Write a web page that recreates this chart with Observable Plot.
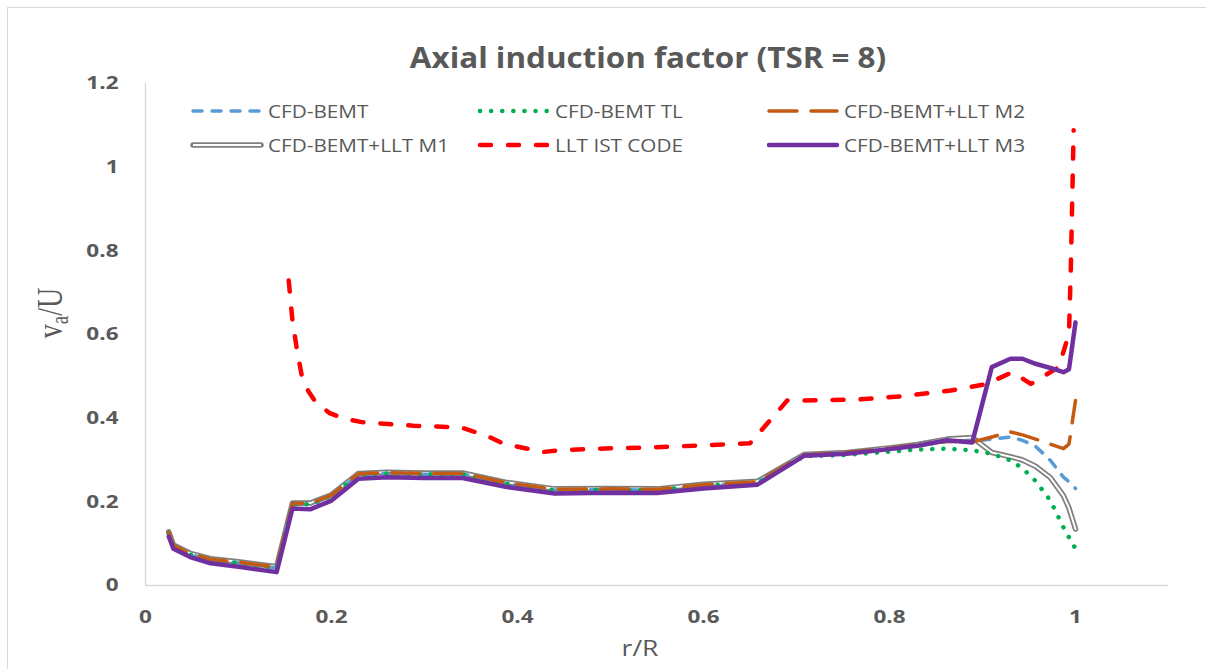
<!DOCTYPE html>
<html><head><meta charset="utf-8">
<script src="https://cdn.jsdelivr.net/npm/d3@7"></script>
<script src="https://cdn.jsdelivr.net/npm/@observablehq/plot@0.6"></script>
<style>
html,body{margin:0;padding:0;background:#fff;overflow:hidden;}
#wrap{position:relative;width:1206px;height:669px;font-family:"Open Sans",sans-serif;color:#595959;overflow:hidden;}
#frame{position:absolute;left:7px;top:7px;width:1300px;height:800px;border:1px solid #d9d9d9;}
#chart{position:absolute;left:0;top:0;}
.abs{position:absolute;white-space:nowrap;}
#title{left:648px;top:57px;transform:translate(-50%,-50%) scaleX(1.12);font-weight:700;font-size:28px;}
#xlabel{left:640px;top:647px;transform:translate(-50%,-50%) scaleX(1.2);font-size:22px;}
#ylabel{left:52px;top:313px;transform:translate(-50%,-50%) scaleX(1.3) rotate(-90deg);font-family:"Liberation Serif","DejaVu Serif",serif;font-size:28px;}
#ylabel sub{font-size:19px;vertical-align:-4px;}
.leg{display:flex;align-items:center;height:24px;transform:translateY(-50%);}
.leg span{font-size:18px;display:inline-block;transform-origin:0 50%;transform:scaleX(1.15);margin-left:5px;}
</style></head>
<body><div id="wrap">
<div id="frame"></div>
<div id="chart"></div>
<div id="title" class="abs">Axial induction factor (TSR = 8)</div>
<div id="xlabel" class="abs">r/R</div>
<div id="ylabel" class="abs">v<sub>a</sub>/U</div>
</div>
<script>
// ---- data ----
const rR     = [0.025,0.030,0.048,0.070,0.102,0.141,0.158,0.177,0.200,0.229,0.260,0.300,0.341,0.387,0.440,0.500,0.550,0.600,0.658,0.708,0.754,0.800,0.830,0.862,0.889,0.910,0.930,0.943,0.957,0.973,0.987,0.993,1.000];
const bemt   = [0.125,0.094,0.074,0.062,0.053,0.042,0.194,0.194,0.214,0.265,0.268,0.266,0.266,0.244,0.228,0.229,0.228,0.239,0.246,0.310,0.316,0.326,0.334,0.344,0.345,0.350,0.355,0.347,0.333,0.299,0.259,0.248,0.232];
const bemtTL = [0.125,0.094,0.074,0.062,0.053,0.042,0.194,0.194,0.214,0.265,0.268,0.266,0.266,0.244,0.228,0.229,0.228,0.239,0.245,0.309,0.312,0.320,0.325,0.327,0.323,0.315,0.299,0.280,0.250,0.203,0.139,0.115,0.088];
const lltM2  = [0.127,0.096,0.076,0.063,0.055,0.044,0.196,0.196,0.216,0.267,0.270,0.268,0.268,0.246,0.230,0.231,0.230,0.241,0.248,0.312,0.318,0.328,0.336,0.345,0.343,0.355,0.367,0.360,0.350,0.338,0.327,0.338,0.442];
const lltM1  = [0.128,0.097,0.077,0.064,0.056,0.045,0.197,0.197,0.217,0.268,0.271,0.269,0.269,0.247,0.231,0.232,0.231,0.242,0.249,0.313,0.318,0.329,0.337,0.350,0.354,0.318,0.308,0.300,0.285,0.258,0.215,0.185,0.135];
const lltM3  = [0.117,0.088,0.068,0.053,0.044,0.032,0.184,0.182,0.203,0.255,0.259,0.257,0.257,0.236,0.220,0.222,0.221,0.232,0.241,0.310,0.315,0.326,0.334,0.347,0.342,0.522,0.542,0.542,0.530,0.520,0.510,0.517,0.629];
const istR   = [0.154,0.158,0.163,0.168,0.175,0.183,0.198,0.213,0.234,0.288,0.339,0.367,0.385,0.427,0.443,0.500,0.543,0.600,0.650,0.690,0.704,0.769,0.812,0.866,0.905,0.932,0.952,0.982,0.993,0.995,0.998];
const istVa  = [0.729,0.633,0.562,0.502,0.465,0.438,0.412,0.399,0.390,0.382,0.378,0.358,0.339,0.319,0.323,0.328,0.330,0.335,0.340,0.442,0.442,0.445,0.452,0.466,0.482,0.510,0.482,0.522,0.602,0.761,1.088];
const xTicks = [0,0.2,0.4,0.6,0.8,1];
const yTicks = [0,0.2,0.4,0.6,0.8,1,1.2];
const seriesNames = ["CFD-BEMT","CFD-BEMT TL","CFD-BEMT+LLT M2","CFD-BEMT+LLT M1","LLT IST CODE","CFD-BEMT+LLT M3"];

// ---- styles ----
const sty = {
  "CFD-BEMT":        {stroke:"#5B9BD5", strokeWidth:3.5, strokeDasharray:"9,10"},
  "CFD-BEMT TL":     {stroke:"#00B050", strokeWidth:4.5, strokeDasharray:"0.1,11"},
  "CFD-BEMT+LLT M2": {stroke:"#C55A11", strokeWidth:3.5, strokeDasharray:"28,14"},
  "CFD-BEMT+LLT M1": {stroke:"#7F7F7F", strokeWidth:5.5, inner:"#ffffff", innerWidth:2},
  "LLT IST CODE":    {stroke:"#FF0000", strokeWidth:4.5, strokeDasharray:"11,17"},
  "CFD-BEMT+LLT M3": {stroke:"#7030A0", strokeWidth:4.5}
};

const mk = (xs, ys) => xs.map((x,i)=>({x, y: ys[i]}));
const dBemt = mk(rR,bemt), dTL = mk(rR,bemtTL), dM2 = mk(rR,lltM2), dM1 = mk(rR,lltM1), dM3 = mk(rR,lltM3), dIst = mk(istR,istVa);

const lineOpts = (s) => ({x:"x", y:"y", stroke:s.stroke, strokeWidth:s.strokeWidth, strokeDasharray:s.strokeDasharray, strokeLinecap:"round", strokeLinejoin:"round"});

const chart = Plot.plot({
  width: 1206, height: 669,
  marginLeft: 145, marginRight: 38, marginTop: 83, marginBottom: 84,
  style: {fontFamily:"'Open Sans', sans-serif", fontSize:"18px", fontWeight:"700", color:"#595959", background:"transparent", overflow:"visible"},
  x: {domain:[0,1.1], ticks:xTicks, tickFormat:d=>String(d), tickSize:0, tickPadding:25, label:null},
  y: {domain:[0,1.2], ticks:yTicks, tickFormat:d=>String(d), tickSize:0, tickPadding:27, label:null},
  marks: [
    Plot.ruleX([0], {stroke:"#d9d9d9", strokeWidth:1.3}),
    Plot.ruleY([0], {stroke:"#d9d9d9", strokeWidth:1.3}),
    Plot.line(dM1, lineOpts(sty["CFD-BEMT+LLT M1"])),
    Plot.line(dM1, {x:"x", y:"y", stroke:"#ffffff", strokeWidth:2, strokeLinejoin:"round"}),
    Plot.line(dBemt, lineOpts(sty["CFD-BEMT"])),
    Plot.line(dTL, lineOpts(sty["CFD-BEMT TL"])),
    Plot.line(dM2, lineOpts(sty["CFD-BEMT+LLT M2"])),
    Plot.line(dIst, lineOpts(sty["LLT IST CODE"])),
    Plot.line(dM3, lineOpts(sty["CFD-BEMT+LLT M3"]))
  ]
});
document.getElementById("chart").appendChild(chart);
// widen tick labels slightly like the reference
chart.querySelectorAll('[aria-label$="tick label"] text').forEach(t => {
  const tr = t.getAttribute("transform");
  if (tr) t.setAttribute("transform", tr + " scale(1.25,1)");
});

// ---- legend ----
const legPos = [[191,111],[478,111],[767,111],[191,145],[478,145],[767,145]];
const wrap = document.getElementById("wrap");
seriesNames.forEach((name,i) => {
  const s = sty[name];
  const d = document.createElement("div");
  d.className = "abs leg";
  d.style.left = legPos[i][0] + "px";
  d.style.top = legPos[i][1] + "px";
  let svg = `<svg width="72" height="14" style="overflow:visible"><line x1="2" y1="7" x2="70" y2="7" stroke="${s.stroke}" stroke-width="${s.strokeWidth}" stroke-linecap="round" ${s.strokeDasharray?`stroke-dasharray="${s.strokeDasharray}"`:""}/>`;
  if (s.inner) svg += `<line x1="2" y1="7" x2="70" y2="7" stroke="${s.inner}" stroke-width="${s.innerWidth}"/>`;
  svg += `</svg>`;
  d.innerHTML = svg + `<span>${name}</span>`;
  wrap.appendChild(d);
});
</script>
</body></html>
